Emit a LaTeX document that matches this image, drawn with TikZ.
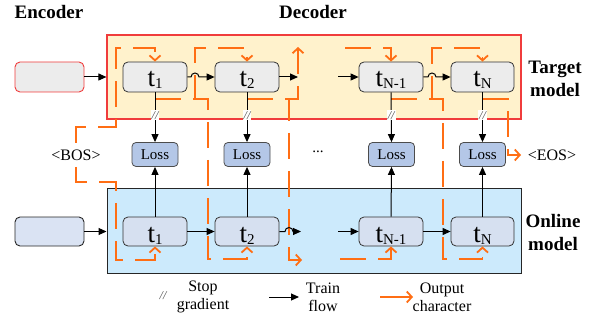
\documentclass[tikz,border=0pt]{standalone}
\usepackage{fontspec}
\setmainfont{Liberation Serif}
\usetikzlibrary{arrows.meta}
\definecolor{org}{RGB}{255,110,20}
\definecolor{tgtfill}{RGB}{255,242,204}
\definecolor{tgtline}{RGB}{240,60,60}
\definecolor{onfill}{RGB}{204,234,252}
\definecolor{tfill}{RGB}{236,236,236}
\definecolor{onnode}{RGB}{214,224,240}
\definecolor{encon}{RGB}{218,227,243}
\definecolor{lossfill}{RGB}{180,199,231}
\newcommand{\tsym}[1]{t\raisebox{-2pt}{\fontsize{15}{15}\selectfont #1}}
\begin{document}
\begin{tikzpicture}[x=1pt,y=-1pt,
  box/.style={minimum width=414pt, minimum height=84pt, inner sep=0pt},
  tnode/.style={draw=black!80, line width=0.8pt, rounded corners=5pt, minimum width=64pt, minimum height=30pt, inner sep=0pt, text height=20pt, text depth=0pt, font=\fontsize{27}{27}\selectfont},
  encnode/.style={line width=0.9pt, rounded corners=5pt, minimum width=69pt, minimum height=30pt, inner sep=0pt},
  lossnode/.style={draw=black!70, line width=0.8pt, rounded corners=4pt, fill=lossfill, minimum width=46pt, minimum height=24pt, inner sep=0pt, font=\fontsize{15}{16}\selectfont},
  flow/.style={line width=1pt, -{Triangle[length=8pt,width=7pt]}},
  outc/.style={draw=org, line width=1.8pt, dash pattern=on 26pt off 12pt, -{Straight Barb[length=5pt,width=11pt]}},
  sg/.style={fill=white, inner sep=1pt, text=black!70, font=\itshape\fontsize{12}{12}\selectfont},
  title/.style={font=\bfseries\fontsize{19}{23}\selectfont, align=center},
  txt/.style={font=\fontsize{16}{18}\selectfont, align=center, inner sep=0pt}
]
\useasboundingbox (0,0) rectangle (593,320);

% titles
\node[title] (enc) at (49,12) {Encoder};
\node[title] (dec) at (313,12) {Decoder};
\node[title] (tm) at (555,79) {Target\\model};
\node[title] (om) at (553,233) {Online\\model};

% model boxes
\node[box, draw=tgtline, line width=1.2pt, fill=tgtfill] (TB) at (314,77) {};
\node[box, draw=black!85, line width=1pt, fill=onfill] (OB) at (314,231) {};

% encoder nodes
\node[encnode, draw=tgtline, fill=tfill] (E1) at (49.5,77) {};
\node[encnode, draw=black!85, fill=encon, minimum height=29pt] (E2) at (49.5,231.5) {};

% target nodes
\node[tnode, fill=tfill] (T1) at (155,77) {\tsym{1}};
\node[tnode, fill=tfill] (T2) at (247,77) {\tsym{2}};
\node[tnode, fill=tfill] (TN1) at (391,77) {\tsym{N-1}};
\node[tnode, fill=tfill, minimum width=63pt] (TN) at (482.5,77) {\tsym{N}};

% online nodes
\node[tnode, fill=onnode, minimum height=29pt, text height=22pt] (O1) at (155,231.5) {\tsym{1}};
\node[tnode, fill=onnode, minimum height=29pt, text height=22pt] (O2) at (247,231.5) {\tsym{2}};
\node[tnode, fill=onnode, minimum height=29pt, text height=22pt] (ON1) at (391,231.5) {\tsym{N-1}};
\node[tnode, fill=onnode, minimum height=29pt, text height=22pt, minimum width=63pt] (ON) at (482.5,231.5) {\tsym{N}};

% loss nodes
\node[lossnode] (L1) at (155,154.5) {Loss};
\node[lossnode] (L2) at (247,154.5) {Loss};
\node[lossnode] (LN1) at (391.5,154.5) {Loss};
\node[lossnode] (LN) at (482.5,154.5) {Loss};

\node[font=\fontsize{15}{16}\selectfont] (dots) at (318,152) {...};
\node[font=\fontsize{16}{18}\selectfont] (bos) at (76,155) {<BOS>};
\node[font=\fontsize{16}{18}\selectfont] (eos) at (552,155) {<EOS>};

% orange output-character flows
\coordinate (bU) at (76,143);
\coordinate (bD) at (76,167);
\draw[outc] (bU) -- (76,127) -- (116,127) -- (116,48) -| (T1.north);
\draw[outc] (bD) -- (76,182) -- (116,182) -- (116,260) -| (O1.south);

\coordinate (s1) at (155,99);
\draw[outc] (s1) -- (195,99) -- (195,48) -| (T2.north);
\draw[outc] (s1) -- (208,99) -- (208,259) -| (O2.south);

\coordinate (s2) at (247,99);
\coordinate (u2) at (298,47);
\coordinate (d2) at (302,260);
\draw[outc] (s2) -- (298,99) -- (u2);
\draw[outc] (s2) -- (289,99) -- (289,260) -- (d2);

\coordinate (iN1t) at (345,48);
\coordinate (iN1o) at (340,259);
\draw[outc] (iN1t) -| (TN1.north);
\draw[outc] (iN1o) -| (ON1.south);

\coordinate (s3) at (391,99);
\draw[outc] (s3) -- (432,99) -- (432,48) -| (TN.north);
\draw[outc] (s3) -- (443,99) -- (443,259) -| (ON.south);

\coordinate (s4) at (482.5,99);
\coordinate (eosin) at (521,155);
\draw[outc] (s4) -- (508,99) -- (508,155) -- (eosin);

% black train flows
\draw[flow] (E1.east) -- (TB.west |- E1.east);
\draw[flow] (E2.east) -- (OB.west |- E2.east);

\coordinate (T2r) at (298,77);
\coordinate (TN1l) at (338,77);
\draw[flow] (T1.east) -- (191,77) arc[start angle=180,end angle=360,radius=4] -- (T2.west);
\draw[flow] (T2.east) -- (T2r);
\draw[flow] (TN1l) -- (TN1.west);
\draw[flow] (TN1.east) -- (428,77) arc[start angle=180,end angle=360,radius=4] -- (TN.west);

\coordinate (O2r) at (301,231.5);
\coordinate (ON1l) at (338,231.5);
\draw[flow] (O1.east) -- (O2.west);
\draw[flow] (O2.east) -- (285,231.5) arc[start angle=180,end angle=360,radius=4] -- (O2r);
\draw[flow] (ON1l) -- (ON1.west);
\draw[flow] (ON1.east) -- (ON.west);

% stop gradient arrows
\draw[flow] (T1.south) -- node[sg, pos=0.46]{//} (L1.north);
\draw[flow] (T2.south) -- node[sg, pos=0.46]{//} (L2.north);
\draw[flow] (TN1.south) -- node[sg, pos=0.46]{//} (LN1.north);
\draw[flow] (TN.south) -- node[sg, pos=0.46]{//} (LN.north);

\draw[flow] (O1.north) -- (L1.south);
\draw[flow] (O2.north) -- (L2.south);
\draw[flow] (ON1.north) -- (LN1.south);
\draw[flow] (ON.north) -- (LN.south);

% legend
\node[sg, fill=none] (lsg) at (163,296) {//};
\node[txt] (lsgt) at (203,297) {Stop\\gradient};
\coordinate (la1) at (269,297);
\coordinate (la2) at (299,297);
\draw[flow] (la1) -- (la2);
\node[txt] (ltf) at (323,297) {Train\\flow};
\coordinate (lo1) at (380,297);
\coordinate (lo2) at (413,297);
\draw[draw=org, line width=1.8pt, -{Straight Barb[length=5pt,width=11pt]}] (lo1) -- (lo2);
\node[txt] (loc) at (442,297) {Output\\character};
\end{tikzpicture}
\end{document}
